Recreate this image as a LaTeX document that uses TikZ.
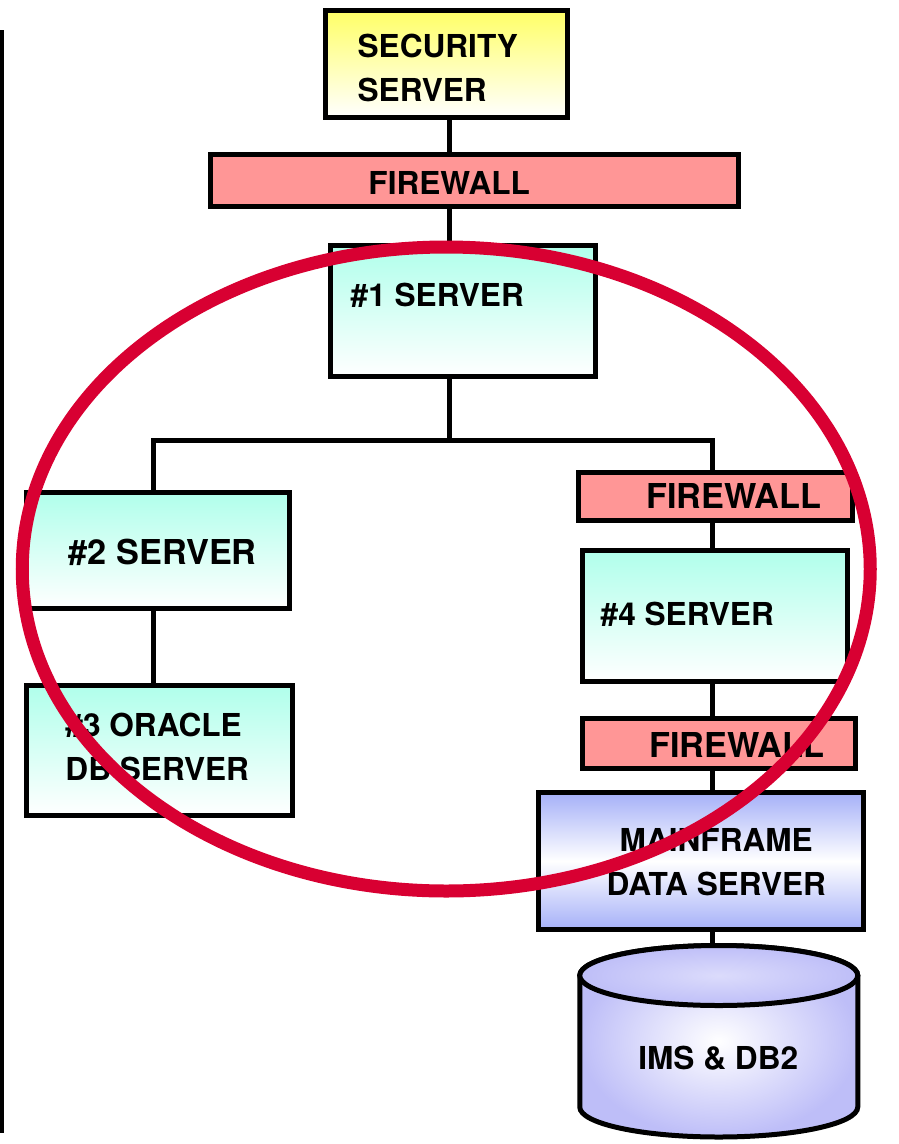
\documentclass[tikz,border=0pt]{standalone}
\usepackage{fontspec}
\setmainfont{TeX Gyre Heros}

\definecolor{secyellow}{RGB}{255,255,102}
\definecolor{wallred}{RGB}{255,150,150}
\definecolor{srvcyan}{RGB}{176,255,235}
\definecolor{mfblue}{RGB}{165,176,248}
\definecolor{dbblue}{RGB}{190,190,248}
\definecolor{ringred}{RGB}{216,0,50}

\begin{document}
\begin{tikzpicture}[x=1pt, y=-1pt,
    box/.style={draw, line width=5pt, inner sep=0pt},
    server/.style={box, top color=srvcyan, bottom color=white},
    wall/.style={box, fill=wallred},
    link/.style={line width=5pt},
    txt/.style={font=\bfseries\fontsize{31.6}{44}\selectfont, align=left},
    wide/.style={font=\bfseries\fontsize{34.3}{44}\selectfont},
    every label/.style={txt}]
  \fill[white] (0,0) rectangle (898,1144);

  % rule down the left edge
  \draw[line width=4.5pt] (2,30) -- (2,1133);

  % main column
  \node[box, top color=secyellow, bottom color=white, minimum width=242pt, minimum height=107pt,
        label={[xshift=-9pt, yshift=-4pt]center:SECURITY\\SERVER}] (sec) at (446.5,64) {};
  \node[wall, minimum width=528pt, minimum height=52pt,
        label={[xshift=-25.5pt, yshift=-2.5pt]center:FIREWALL}] (fw1) at (474.5,180.5) {};
  \node[server, minimum width=265pt, minimum height=131pt,
        label={[xshift=-26pt, yshift=16pt]center:\#1 SERVER}] (s1) at (463,311) {};

  % left branch
  \node[server, minimum width=263pt, minimum height=116pt,
        label={[wide, xshift=4.5pt, yshift=-1.5pt]center:\#2 SERVER}] (s2) at (158,550.5) {};
  \node[server, minimum width=266pt, minimum height=130pt,
        label={[xshift=-2.5pt, yshift=3.5pt]center:\#3 ORACLE\\DB SERVER}] (s3) at (159.5,750.5) {};

  % right branch
  \node[wall, minimum width=274pt, minimum height=48pt,
        label={[wide, xshift=18pt, yshift=0.5pt]center:FIREWALL}] (fw2) at (715.5,496.5) {};
  \node[server, minimum width=265pt, minimum height=131pt,
        label={[xshift=-28pt, yshift=2pt]center:\#4 SERVER}] (s4) at (715,616) {};
  \node[wall, minimum width=273pt, minimum height=50pt,
        label={[wide, xshift=17.5pt, yshift=-1.5pt]center:FIREWALL}] (fw3) at (719,743.5) {};
  \node[box, top color=mfblue, bottom color=mfblue, middle color=white,
        minimum width=325pt, minimum height=137pt,
        label={[align=center, xshift=15pt, yshift=-1pt]center:MAINFRAME\\DATA SERVER}] (mf) at (701,861) {};

  % database drum
  \draw[line width=5pt, shading=radial, inner color=white, outer color=dbblue]
    (579.5,975.5) arc[start angle=180, end angle=0, x radius=139pt, y radius=30pt]
    -- (857.5,1107) arc[start angle=0, end angle=-180, x radius=139pt, y radius=30pt] -- cycle;
  \draw[line width=5pt, shading=radial, inner color=white!45!dbblue, outer color=dbblue]
    (718.5,975.5) ellipse [x radius=139pt, y radius=30pt];
  \coordinate (dbtop) at (718.5,945.5);
  \node[txt] (db) at (718,1058) {IMS \& DB2};

  % wiring
  \coordinate (spine) at (449,440);
  \coordinate (busL) at (153,440);
  \coordinate (busR) at (712,440);
  \draw[link] (sec.south -| spine) -- (fw1.north -| spine)
              (fw1.south -| spine) -- (s1.north -| spine)
              (s1.south -| spine) -- (spine);
  \draw[link, line cap=rect] (busL) -- (busR);
  \draw[link] (busL) -- (s2.north -| busL)
              (s2.south -| busL) -- (s3.north -| busL);
  \draw[link] (busR) -- (fw2.north -| busR)
              (fw2.south -| busR) -- (s4.north -| busR)
              (s4.south -| busR) -- (fw3.north -| busR)
              (fw3.south -| busR) -- (mf.north -| busR)
              (mf.south -| busR) -- (dbtop -| busR);

  % ring round the server group
  \draw[ringred, line width=13pt] (446,569) ellipse [x radius=424pt, y radius=322pt];
\end{tikzpicture}
\end{document}
